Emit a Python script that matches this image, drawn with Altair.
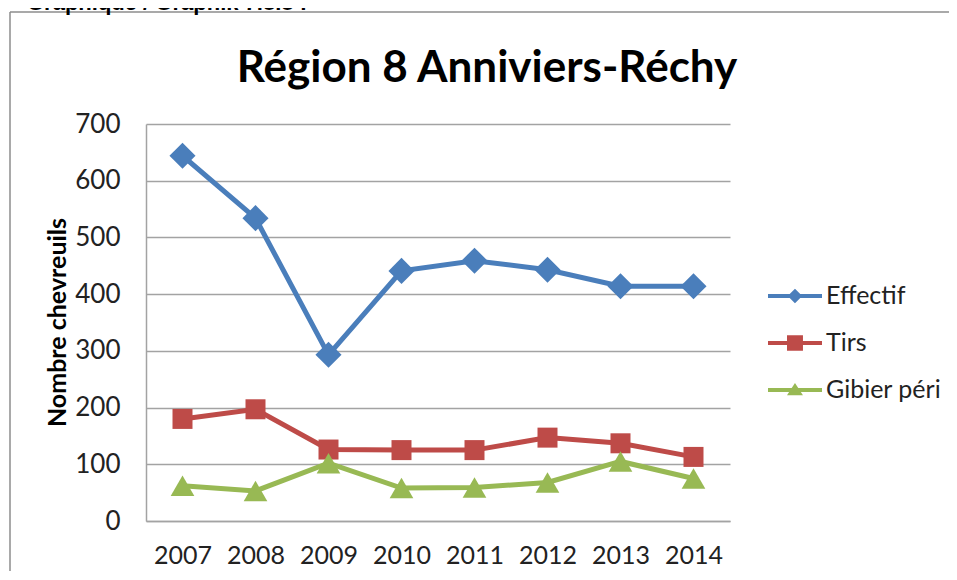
import altair as alt
import pandas as pd

years = ["2007", "2008", "2009", "2010", "2011", "2012", "2013", "2014"]
effectif = [644, 534, 293, 441, 459, 443, 414, 414]
tirs = [180, 197, 126, 125, 125, 147, 137, 113]
gibier = [62, 53, 102, 58, 59, 68, 105, 75]
series_names = ["Effectif", "Tirs", "Gibier péri"]
series_colors = ["#4A7EBB", "#BE4B48", "#98B954"]
y_ticks = [0, 100, 200, 300, 400, 500, 600, 700]

rows = []
for name, vals in zip(series_names, [effectif, tirs, gibier]):
    for yr, v in zip(years, vals):
        rows.append({"year": yr, "series": name, "value": v})
df = pd.DataFrame(rows)

FONT = "Lato"
GRID = "#A3A3A3"

x_enc = alt.X("year:O", sort=years,
              scale=alt.Scale(type="point", padding=0.5),
              axis=alt.Axis(title=None, labelAngle=0, labelFontSize=25, labelFont=FONT,
                            labelColor="#222222", ticks=False, labelPadding=22,
                            domainColor=GRID, domainWidth=1.5, grid=False))
y_enc = alt.Y("value:Q", scale=alt.Scale(domain=[0, 700], nice=False),
              axis=alt.Axis(values=y_ticks, title="Nombre chevreuils", titleFontSize=25,
                            titleFont=FONT, titleFontWeight="bold", titleColor="#000000",
                            titleAngle=270, titleX=-89, titleY=198, titleAlign="center",
                            titleBaseline="middle",
                            labelFontSize=26, labelFont=FONT, labelColor="#222222",
                            ticks=False, labelPadding=26, domainColor=GRID, domainWidth=1.5,
                            grid=True, gridColor=GRID, gridWidth=1.5))
color_scale = alt.Scale(domain=series_names, range=series_colors)

base = alt.Chart(df)

shapes = ["diamond", "square", "triangle-up"]
sizes = [680, 400, 560]
layers = []
for name, shp, sz in zip(series_names, shapes, sizes):
    sub = base.transform_filter(alt.datum.series == name)
    layers.append(sub.mark_line(strokeWidth=5).encode(
        x=x_enc, y=y_enc,
        color=alt.Color("series:N", scale=color_scale, legend=None)))
    layers.append(sub.mark_point(shape=shp, filled=True, size=sz, opacity=1).encode(
        x=x_enc, y=y_enc,
        color=alt.Color("series:N", scale=color_scale, legend=None)))

# legend symbols: line segment + marker (custom paths, unit = 14px)
legend_paths = [
    "M-2.857,-0.15L1,-0.15L1,0.15L-2.857,0.15Z M-0.93,-0.52L-0.41,0L-0.93,0.52L-1.45,0Z",
    "M-2.857,-0.15L1,-0.15L1,0.15L-2.857,0.15Z M-1.5,-0.55L-0.36,-0.55L-0.36,0.55L-1.5,0.55Z",
    "M-2.857,-0.15L1,-0.15L1,0.15L-2.857,0.15Z M-0.93,-0.5L-0.36,0.38L-1.5,0.38Z",
]
leg = alt.Legend(title=None, orient="none", legendX=648, legendY=158, padding=0,
                 labelFontSize=25, labelFont=FONT, labelColor="#222222",
                 symbolSize=784, symbolStrokeWidth=0, symbolOpacity=1,
                 rowPadding=20, labelOffset=4)
legend_layer = base.transform_filter(alt.datum.value < 0).mark_point(filled=True).encode(
    x=x_enc, y=y_enc,
    color=alt.Color("series:N", scale=color_scale, legend=leg),
    shape=alt.Shape("series:N", scale=alt.Scale(domain=series_names, range=legend_paths),
                    legend=leg),
)

deco = alt.Chart(pd.DataFrame({"t": ["Graphique / Graphik 7.8.8 :"], "h": ["Région 8 Anniviers-Réchy"]}))
frame_top = deco.mark_rule(stroke="#8C8C8C", strokeWidth=1.5, clip=False).encode(
    x=alt.value(-136), x2=alt.value(803), y=alt.value(-112))
frame_left = deco.mark_rule(stroke="#8C8C8C", strokeWidth=1.5, clip=False).encode(
    x=alt.value(-136), y=alt.value(-112), y2=alt.value(447))
header = deco.mark_text(font="Liberation Sans", fontWeight="bold", fontSize=22,
                        align="left", baseline="alphabetic", color="#000000").encode(
    text="t:N", x=alt.value(-119), y=alt.value(-114))
title = deco.mark_text(font=FONT, fontWeight="bold", fontSize=44,
                       align="center", baseline="alphabetic", color="#000000").encode(
    text="h:N", x=alt.value(341), y=alt.value(-42))

chart = alt.layer(frame_top, frame_left, header, title, *layers, legend_layer).properties(
    width=584, height=397,
    autosize=alt.AutoSizeParams(type="none"),
    padding={"left": 138, "top": 116, "right": 219, "bottom": 51},
).resolve_legend(color="independent", shape="independent").configure_view(stroke=None)

chart.save("out.html", embed_options={"renderer": "svg", "actions": False})
